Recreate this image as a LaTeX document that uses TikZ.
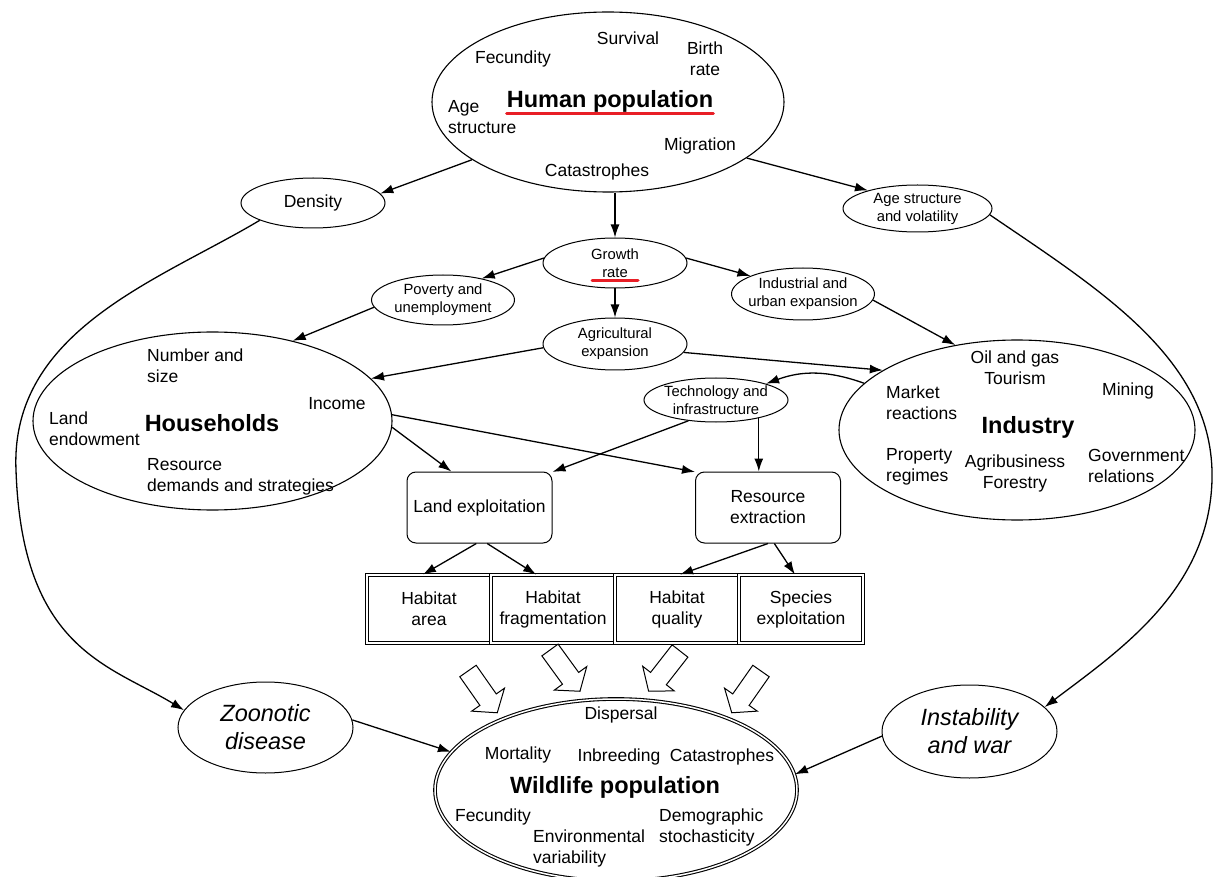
\documentclass[tikz,border=0pt]{standalone}
\usepackage{fontspec}
\setmainfont{Liberation Sans}
\usetikzlibrary{shapes.geometric,arrows.meta}
\definecolor{ulred}{RGB}{232,30,38}
\newcommand\mainfnt{\fontsize{17.5}{21}\selectfont}
\newcommand\smallfnt{\fontsize{14.8}{18}\selectfont}
\newcommand\titlefnt{\fontsize{23.5}{28}\selectfont\bfseries}
\newcommand\italfnt{\fontsize{23.5}{28}\selectfont\itshape}
\begin{document}
\begin{tikzpicture}[x=1pt,y=-1pt,
  bigell/.style={draw,ellipse,line width=1.1pt,inner sep=0pt},
  wildell/.style={draw,ellipse,double,double distance=1.5pt,line width=1.1pt,inner sep=0pt},
  smallell/.style={draw,ellipse,line width=1pt,inner xsep=-10pt,inner ysep=0pt,align=center,font=\smallfnt},
  midell/.style={draw,ellipse,line width=1pt,inner xsep=-10pt,inner ysep=0pt,align=center,font=\mainfnt},
  italell/.style={draw,ellipse,line width=1pt,inner xsep=-10pt,inner ysep=0pt,align=center,font=\italfnt},
  procbox/.style={draw,rounded corners=9pt,line width=1pt,minimum width=145pt,minimum height=71pt,inner sep=0pt,align=center,font=\mainfnt},
  habbox/.style={draw,double,double distance=1.5pt,line width=1pt,minimum width=124pt,minimum height=68pt,inner sep=0pt,align=center,font=\mainfnt},
  txt/.style={font=\mainfnt,inner sep=0pt,align=center},
  ltxt/.style={font=\mainfnt,inner sep=0pt,align=left,anchor=west},
  ttl/.style={font=\titlefnt,inner sep=0pt},
  conn/.style={-{Latex[length=13pt,width=9pt]},line width=1.3pt},
  redline/.style={ulred,line width=3pt,line cap=round},
  hollow/.style={draw,fill=white,line width=1pt,line join=miter}]
\useasboundingbox (0,0) rectangle (1216,877);

\node[bigell,minimum width=352pt,minimum height=180pt] (hp) at (608,102) {};
\node[txt] (hpfec) at (513,59) {Fecundity};
\node[txt] (hpsur) at (628,38) {Survival};
\node[txt] (hpbir) at (705,59) {Birth\\rate};
\node[ttl] (hpttl) at (610,101) {Human population};
\node[ltxt] (hpage) at (448,117.5) {Age\\structure};
\node[txt] (hpmig) at (700,146) {Migration};
\node[txt] (hpcat) at (597,172) {Catastrophes};
\draw[redline] ([yshift=-6pt]hpttl.base west) -- ([yshift=-6pt]hpttl.base east);

\node[midell,minimum width=144pt,minimum height=50pt] (dens) at (313,203) {Density};
\node[smallell,minimum width=149pt,minimum height=47pt] (asv) at (917.5,208.5) {Age structure\\and volatility};
\node[smallell,minimum width=144pt,minimum height=50pt] (gr) at (615,263) {Growth\\rate};
\draw[redline] ([xshift=-23pt,yshift=-18pt]gr.center) -- ([xshift=23pt,yshift=-18pt]gr.center);
\node[smallell,minimum width=143pt,minimum height=50pt] (pov) at (443,300) {Poverty and\\unemployment};
\node[smallell,minimum width=143pt,minimum height=52pt] (iue) at (803,294) {Industrial and\\urban expansion};
\node[smallell,minimum width=144pt,minimum height=52pt] (agr) at (615,344) {Agricultural\\expansion};
\node[smallell,minimum width=144pt,minimum height=44pt] (tech) at (716,400) {Technology and\\infrastructure};

\node[bigell,minimum width=359pt,minimum height=178pt] (hh) at (212.5,421) {};
\node[ltxt] (hhnum) at (147,365.5) {Number and\\size};
\node[ltxt] (hhland) at (49,428.5) {Land\\endowment};
\node[ttl] (hhttl) at (212,423) {Households};
\node[txt] (hhinc) at (337,404) {Income};
\node[ltxt] (hhres) at (147,476.5) {Resource\\demands and strategies};

\node[bigell,minimum width=356pt,minimum height=180pt] (ind) at (1017,430) {};
\node[txt] (indoil) at (1015,367.5) {Oil and gas\\Tourism};
\node[ltxt] (indmkt) at (886,402.5) {Market\\reactions};
\node[txt] (indmin) at (1128,391) {Mining};
\node[ttl] (indttl) at (1028,427) {Industry};
\node[ltxt] (indprop) at (886,466.5) {Property\\regimes};
\node[txt] (indagri) at (1015,473.5) {Agribusiness\\Forestry};
\node[ltxt] (indgov) at (1088,466) {Government\\relations};

\node[procbox] (le) at (479.5,507.5) {Land exploitation};
\node[procbox] (re) at (768,507.5) {Resource\\extraction};

\node[habbox] (ha) at (429,609) {Habitat\\area};
\node[habbox] (hf) at (553,609) {Habitat\\fragmentation};
\node[habbox] (hq) at (677,609) {Habitat\\quality};
\node[habbox] (se) at (801,609) {Species\\exploitation};

\node[italell,minimum width=175pt,minimum height=91pt] (zd) at (265.5,727.5) {Zoonotic\\disease};
\node[italell,minimum width=175pt,minimum height=93pt] (iw) at (969.5,731.5) {Instability\\and war};

\node[wildell,minimum width=362pt,minimum height=182pt] (wp) at (616,790) {};
\node[txt] (wpdis) at (621,715) {Dispersal};
\node[txt] (wpmor) at (518,755) {Mortality};
\node[txt] (wpinb) at (619,757) {Inbreeding};
\node[txt] (wpcat) at (722,757) {Catastrophes};
\node[ttl] (wpttl) at (615,787) {Wildlife population};
\node[txt] (wpfec) at (493,817) {Fecundity};
\node[ltxt] (wpenv) at (533,848) {Environmental\\variability};
\node[ltxt] (wpdem) at (659,827.5) {Demographic\\stochasticity};

\coordinate (lbend) at (16,470);
\coordinate (rbend) at (1212,480);

\draw[conn] (hp.203) -- (dens.8);
\draw[conn] (hp.338) -- (asv.160);
\draw[conn] (gr.north |- hp.south) -- (gr.north);
\draw[conn] (gr.176) -- (pov.29);
\draw[conn] (gr.4) -- (iue.161);
\draw[conn] (gr.south) -- (agr.north);
\draw[conn] (pov.186) -- (hh.45);
\draw[conn] (iue.355) -- (ind.126);
\draw[conn] (agr.183) -- (hh.15);
\draw[conn] (agr.353) -- (ind.156);
\draw[conn] (ind.163) to[bend right=20] (tech.18);
\draw[conn] (hh.358) -- (le.128);
\draw[conn] (hh.2) -- (re.154);
\draw[conn] (tech.217) -- (le.26);
\draw[conn] (tech.-23) -- (tech.-23 |- re.north);
\draw[conn] (le.-95) -- (ha.100);
\draw[conn] (le.-78) -- (hf.116);
\draw[conn] (re.-90) -- (hq.85);
\draw[conn] (re.-80) -- (se.100);
\draw[conn] (dens.198) .. controls (160,280) and (10,330) .. (lbend) .. controls (22,650) and (110,665) .. (zd.168);
\draw[conn] (asv.-5) .. controls (1100,290) and (1215,360) .. (rbend) .. controls (1209,590) and (1120,650) .. (iw.18);
\draw[conn] (zd.5) -- (wp.167);
\draw[conn] (iw.183) -- (wp.5);

\foreach \ax/\ay/\ang in {468/671/-55, 550/650/-54, 680/651/-128, 761/671/-125}
  \draw[hollow,shift={(\ax,\ay)},rotate=\ang] (0,-10) -- (35,-10) -- (35,-20) -- (51,0) -- (35,20) -- (35,10) -- (0,10) -- cycle;
\end{tikzpicture}
\end{document}
